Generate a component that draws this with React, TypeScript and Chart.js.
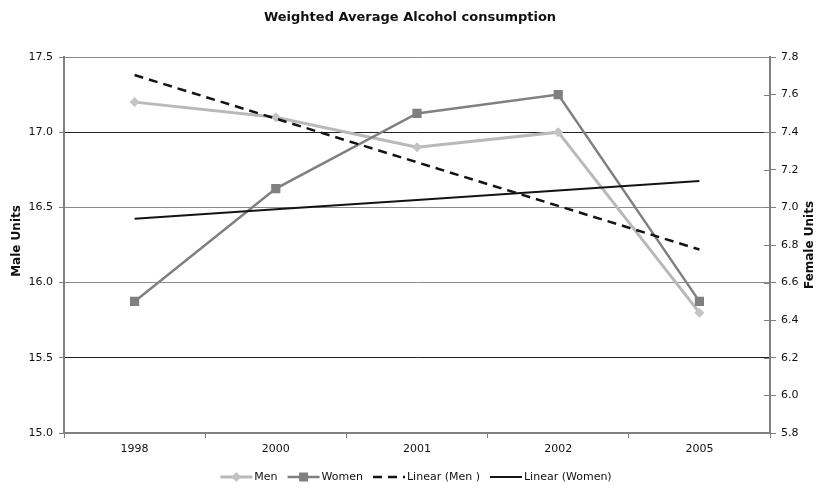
import React, { useEffect, useRef } from "react";
import { Chart, registerables } from "chart.js";

Chart.register(...registerables);

const chartTitle = "Weighted Average Alcohol consumption";
const categories = ["1998", "2000", "2001", "2002", "2005"];
const menValues = [17.2, 17.1, 16.9, 17.0, 15.8];
const womenValues = [6.5, 7.1, 7.5, 7.6, 6.5];
const menTrend = [17.38, 17.09, 16.8, 16.51, 16.22];
const womenTrend = [6.94, 6.99, 7.04, 7.09, 7.14];
const leftAxisTitle = "Male Units";
const rightAxisTitle = "Female Units";
const legendLabels = ["Men", "Women", "Linear (Men )", "Linear (Women)"];

const FONT = '"DejaVu Sans", Verdana, sans-serif';
const MEN_COLOR = "#b9b9b9";
const WOMEN_COLOR = "#808080";
const TREND_COLOR = "#141414";

const overlay = {
  id: "overlay",
  afterDraw(chart: any) {
    const { ctx, chartArea } = chart;
    ctx.save();
    ctx.fillStyle = "#111";
    ctx.textBaseline = "middle";

    // title
    ctx.font = `bold 13px ${FONT}`;
    ctx.textAlign = "center";
    ctx.fillText(chartTitle, 410, 18);

    // axis titles
    ctx.font = `bold 12px ${FONT}`;
    ctx.save();
    ctx.translate(17, 241);
    ctx.rotate(-Math.PI / 2);
    ctx.fillText(leftAxisTitle, 0, 0);
    ctx.restore();
    ctx.save();
    ctx.translate(810, 245);
    ctx.rotate(-Math.PI / 2);
    ctx.fillText(rightAxisTitle, 0, 0);
    ctx.restore();

    // right axis inner tick marks (cross ticks)
    const y2 = chart.scales.y2;
    ctx.strokeStyle = "#808080";
    ctx.lineWidth = 1;
    y2.ticks.forEach((t: any) => {
      const y = Math.round(y2.getPixelForValue(t.value)) + 0.5;
      ctx.beginPath();
      ctx.moveTo(chartArea.right - 6, y);
      ctx.lineTo(chartArea.right, y);
      ctx.stroke();
    });

    // legend
    ctx.font = `11px ${FONT}`;
    ctx.textAlign = "left";
    const lineW = 32;
    const gapText = 2;
    const gapItem = 10;
    const widths = legendLabels.map((l) => ctx.measureText(l).width);
    const total =
      widths.reduce((a, b) => a + b, 0) +
      legendLabels.length * (lineW + gapText) +
      gapItem * (legendLabels.length - 1);
    let x = 416 - total / 2;
    const ly = 477;
    legendLabels.forEach((label, i) => {
      ctx.save();
      ctx.setLineDash([]);
      if (i === 0) {
        ctx.strokeStyle = MEN_COLOR;
        ctx.lineWidth = 3;
      } else if (i === 1) {
        ctx.strokeStyle = WOMEN_COLOR;
        ctx.lineWidth = 2.5;
      } else if (i === 2) {
        ctx.strokeStyle = TREND_COLOR;
        ctx.lineWidth = 2.5;
        ctx.setLineDash([9, 6]);
      } else {
        ctx.strokeStyle = TREND_COLOR;
        ctx.lineWidth = 2;
      }
      ctx.beginPath();
      ctx.moveTo(x, ly);
      ctx.lineTo(x + lineW, ly);
      ctx.stroke();
      ctx.setLineDash([]);
      const cx = x + lineW / 2;
      if (i === 0) {
        ctx.fillStyle = "#c4c4c4";
        ctx.beginPath();
        ctx.moveTo(cx, ly - 5);
        ctx.lineTo(cx + 5, ly);
        ctx.lineTo(cx, ly + 5);
        ctx.lineTo(cx - 5, ly);
        ctx.closePath();
        ctx.fill();
      } else if (i === 1) {
        ctx.fillStyle = WOMEN_COLOR;
        ctx.fillRect(cx - 4.5, ly - 4.5, 9, 9);
      }
      ctx.restore();
      ctx.fillStyle = "#111";
      ctx.fillText(label, x + lineW + gapText, ly);
      x += lineW + gapText + widths[i] + gapItem;
    });

    ctx.restore();
  },
};

export default function App() {
  const ref = useRef<HTMLCanvasElement | null>(null);

  useEffect(() => {
    document.body.style.margin = "0";
    const canvas = ref.current;
    if (!canvas) return;
    const gridColor = (v: number) =>
      Math.abs(v - 17.0) < 1e-6 || Math.abs(v - 15.5) < 1e-6 ? "#222" : "#8a8a8a";

    const chart = new Chart(canvas, {
      type: "line",
      data: {
        labels: categories,
        datasets: [
          {
            label: "Linear (Men )",
            data: menTrend,
            yAxisID: "y",
            borderColor: TREND_COLOR,
            borderWidth: 2.5,
            borderDash: [9, 6],
            pointRadius: 0,
            fill: false,
            order: 0,
          },
          {
            label: "Linear (Women)",
            data: womenTrend,
            yAxisID: "y2",
            borderColor: TREND_COLOR,
            borderWidth: 2,
            pointRadius: 0,
            fill: false,
            order: 0,
          },
          {
            label: "Women",
            data: womenValues,
            yAxisID: "y2",
            borderColor: WOMEN_COLOR,
            borderWidth: 2.5,
            pointStyle: "rect",
            pointRadius: 6.5,
            pointBackgroundColor: WOMEN_COLOR,
            pointBorderColor: WOMEN_COLOR,
            pointBorderWidth: 0,
            fill: false,
            order: 1,
          },
          {
            label: "Men",
            data: menValues,
            yAxisID: "y",
            borderColor: MEN_COLOR,
            borderWidth: 3,
            pointStyle: "rectRot",
            pointRadius: 5,
            pointBackgroundColor: "#c4c4c4",
            pointBorderColor: "#c4c4c4",
            pointBorderWidth: 0,
            fill: false,
            order: 2,
          },
        ],
      },
      options: {
        responsive: false,
        animation: false,
        events: [],
        layout: { padding: { top: 57, left: 0, right: 0, bottom: 0 } },
        plugins: {
          legend: { display: false },
          title: { display: false },
          tooltip: { enabled: false },
        },
        scales: {
          x: {
            type: "category",
            offset: true,
            afterFit: (s: any) => {
              s.height = 56;
            },
            grid: {
              offset: true,
              drawOnChartArea: false,
              drawTicks: true,
              tickLength: 5,
              tickColor: "#808080",
            },
            border: { display: true, color: "#808080", width: 2 },
            ticks: {
              padding: 5,
              color: "#111",
              font: { family: FONT, size: 11 },
              maxRotation: 0,
            },
          },
          y: {
            type: "linear",
            position: "left",
            min: 15,
            max: 17.5,
            afterFit: (s: any) => {
              s.width = 64;
            },
            grid: {
              color: (c: any) => gridColor(c.tick ? c.tick.value : 0),
              lineWidth: 1,
              drawTicks: true,
              tickLength: 5,
              tickColor: "#808080",
            },
            border: { display: true, color: "#808080", width: 2 },
            ticks: {
              stepSize: 0.5,
              padding: 6,
              color: "#111",
              font: { family: FONT, size: 11 },
              callback: (v: any) => Number(v).toFixed(1),
            },
          },
          y2: {
            type: "linear",
            position: "right",
            min: 5.8,
            max: 7.8,
            afterFit: (s: any) => {
              s.width = 48;
            },
            grid: {
              drawOnChartArea: false,
              drawTicks: true,
              tickLength: 6,
              tickColor: "#808080",
            },
            border: { display: true, color: "#808080", width: 2 },
            ticks: {
              stepSize: 0.2,
              padding: 5,
              color: "#111",
              font: { family: FONT, size: 11 },
              callback: (v: any) => Number(v).toFixed(1),
            },
          },
        },
      },
      plugins: [overlay],
    });
    return () => chart.destroy();
  }, []);

  return (
    <div style={{ position: "absolute", left: 0, top: 0, width: 818, height: 489, background: "#fff" }}>
      <canvas ref={ref} width={818} height={489} />
    </div>
  );
}
